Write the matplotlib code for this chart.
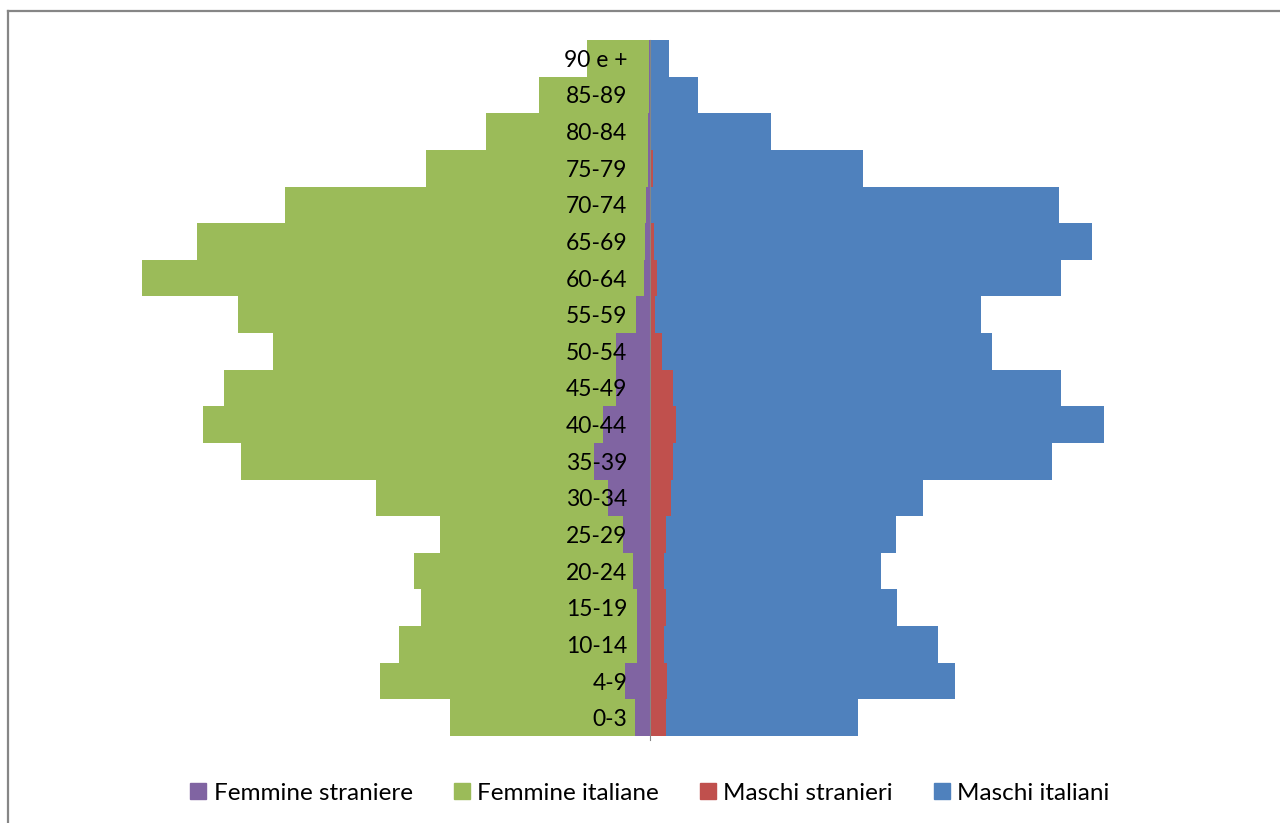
import matplotlib.pyplot as plt
from matplotlib.patches import Patch
from matplotlib.lines import Line2D

# age groups, bottom to top
eta = ['0-3', '4-9', '10-14', '15-19', '20-24', '25-29', '30-34', '35-39',
       '40-44', '45-49', '50-54', '55-59', '60-64', '65-69', '70-74',
       '75-79', '80-84', '85-89', '90 e +']

femmine_straniere = [14.5, 24.5, 12.5, 12.5, 16.5, 26.5, 41.5, 55.5, 46.5, 33.5,
                     33.5, 13.5, 5.5, 4.5, 3.5, 2, 1.5, 0.5, 0.5]
femmine_italiane = [185, 245, 238, 216, 219, 183, 232, 353, 400, 392,
                    343, 398, 502, 448, 361, 221.5, 162, 110, 62.3]
maschi_stranieri = [16.5, 17.5, 14.5, 16.5, 14.5, 16.5, 21.5, 23.5, 26.5, 23.5,
                    12.5, 5.5, 7.5, 4.5, 1, 3.5, 0.8, 0.5, 0.3]
maschi_italiani = [192, 288, 274, 231, 217, 230, 252, 379, 428, 388,
                   330, 326, 404, 438, 408.5, 210, 120.7, 48, 19.2]

c_fs = '#8064A2'
c_fi = '#9BBB59'
c_ms = '#C0504D'
c_mi = '#4F81BD'

plt.rcParams['font.family'] = ['Lato', 'DejaVu Sans']

W, H = 1280, 823
fig = plt.figure(figsize=(W / 100, H / 100), dpi=100)
ax = fig.add_axes([0, 1 - 736 / H, 1, 696 / H])

y = list(range(len(eta)))
neg_fs = [-v for v in femmine_straniere]
neg_fi = [-v for v in femmine_italiane]
ax.barh(y, neg_fs, height=1.0, color=c_fs, zorder=1)
ax.barh(y, neg_fi, left=neg_fs, height=1.0, color=c_fi, zorder=1)
ax.barh(y, maschi_stranieri, height=1.0, color=c_ms, zorder=1)
ax.barh(y, maschi_italiani, left=maschi_stranieri, height=1.0, color=c_mi, zorder=1)

ax.set_xlim(-649.5, W - 649.5)
ax.set_ylim(-0.5, len(eta) - 0.5)

for s in ['top', 'right', 'bottom']:
    ax.spines[s].set_visible(False)
ax.spines['left'].set_position(('data', 0))
ax.spines['left'].set_color('#868686')
ax.spines['left'].set_linewidth(0.8)
ax.spines['left'].set_zorder(3)
ax.spines['left'].set_bounds(-0.62, len(eta) - 0.5)
ax.set_xticks([])
ax.set_yticks(y)
ax.set_yticklabels(eta, fontsize=16.5, color='black')
ax.tick_params(axis='y', length=0, pad=16)
ax.patch.set_alpha(0)

# chart area frame (top and left edges)
fig.add_artist(Line2D([8 / W, 1], [1 - 11 / H, 1 - 11 / H], color='#868686', lw=1.6))
fig.add_artist(Line2D([8 / W, 8 / W], [0, 1 - 11 / H], color='#868686', lw=1.6))

handles = [Patch(color=c_fs, label='Femmine straniere'),
           Patch(color=c_fi, label='Femmine italiane'),
           Patch(color=c_ms, label='Maschi stranieri'),
           Patch(color=c_mi, label='Maschi italiani')]
fig.legend(handles=handles, loc='center', bbox_to_anchor=(650 / W, 1 - 793 / H),
           ncol=4, frameon=False, fontsize=17.5, handlelength=0.65, handleheight=0.65,
           handletextpad=0.3, columnspacing=1.7)

fig.savefig('out.png', dpi=100)
